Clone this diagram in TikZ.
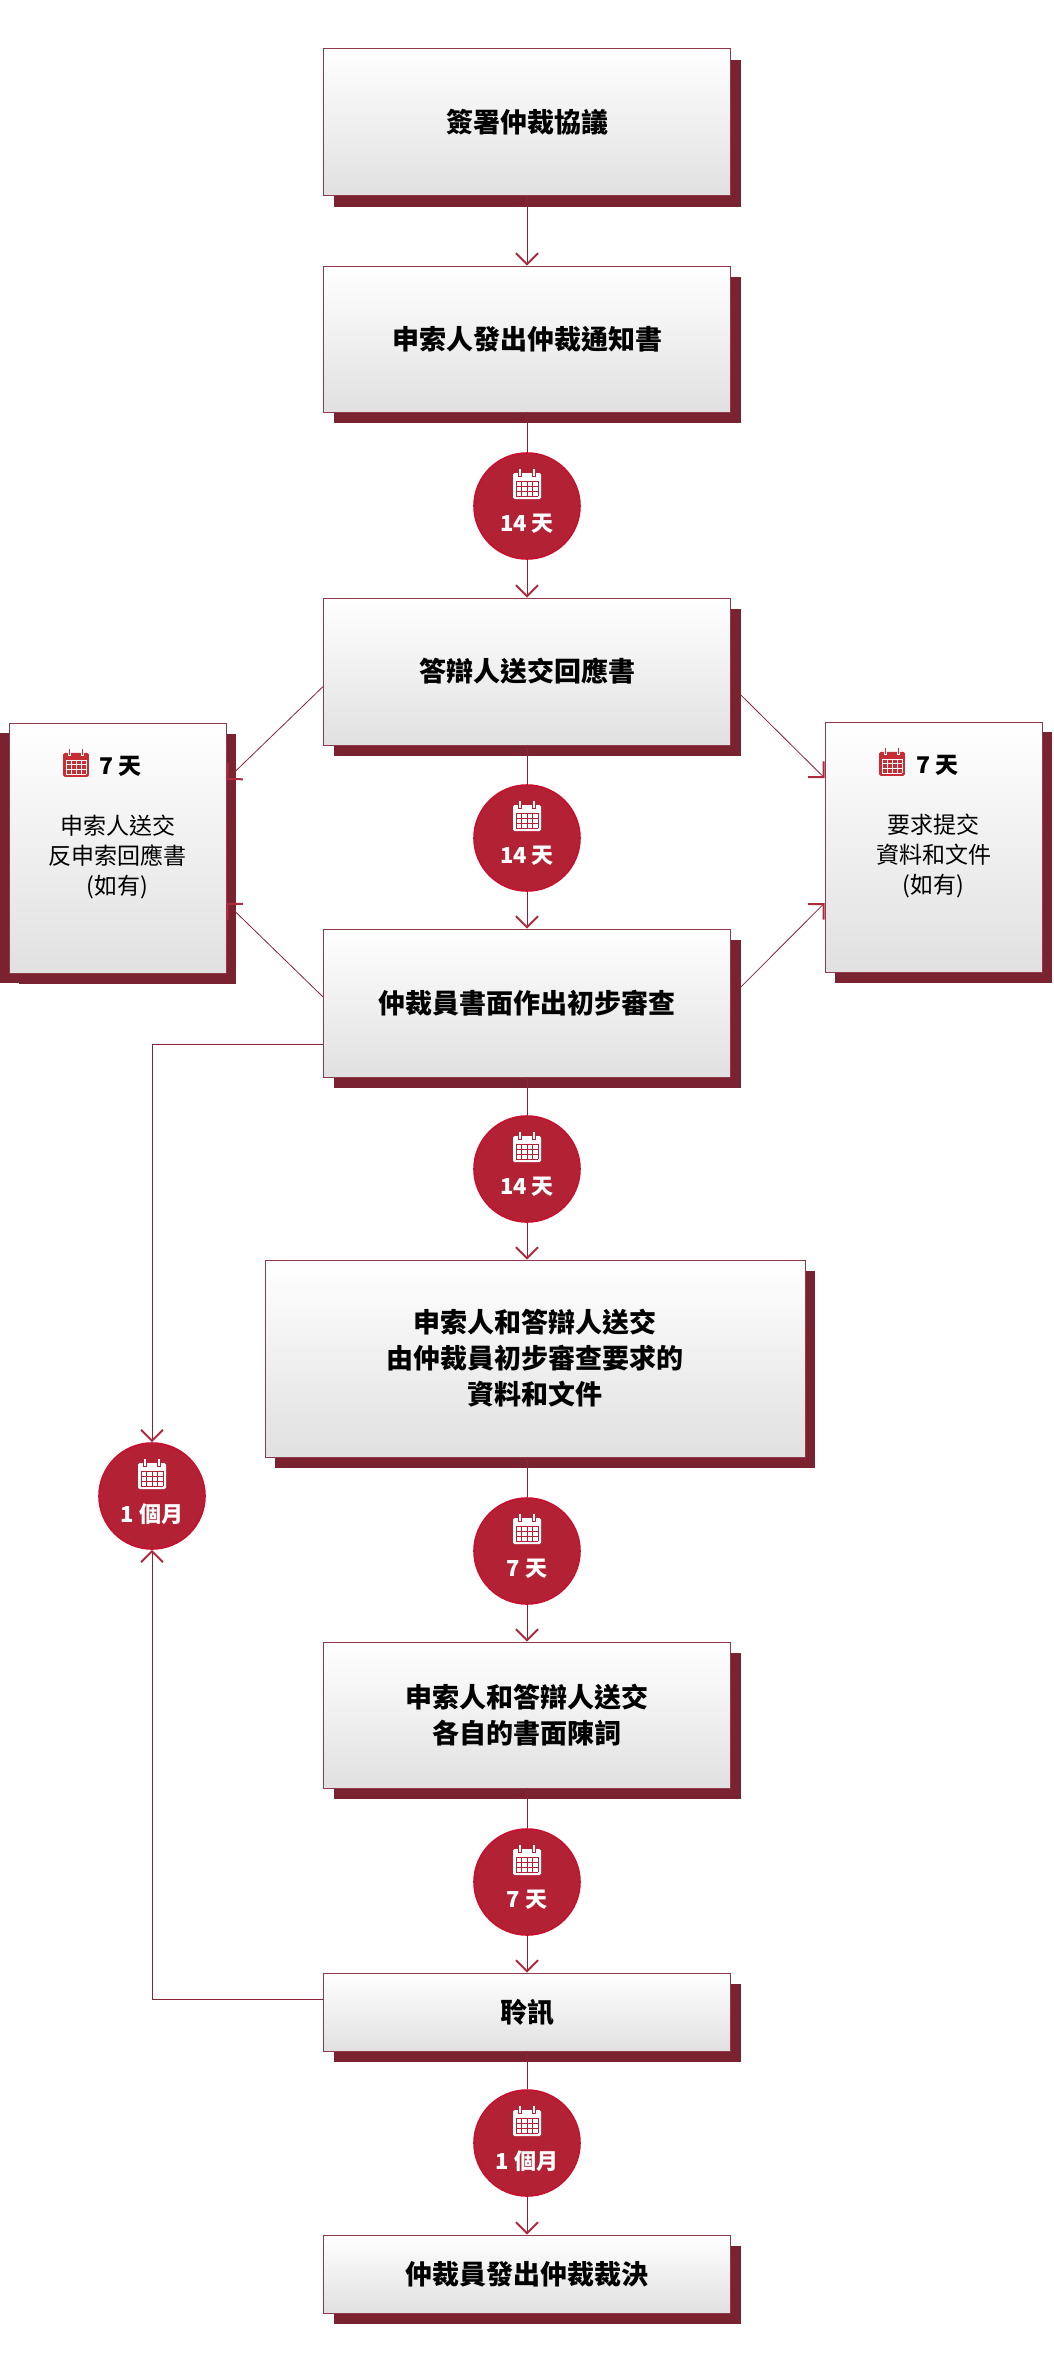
\documentclass[tikz,border=0pt]{standalone}
\usepackage{fontspec}
\setmainfont{Noto Sans CJK TC}
\usepackage{xcolor}
\usepackage{tikz}
\usetikzlibrary{positioning,calc,shadows,arrows.meta}

\definecolor{shadowred}{HTML}{7B2230}
\definecolor{circred}{HTML}{B22234}
\definecolor{circedge}{HTML}{C8102E}
\definecolor{linered}{HTML}{8C2236}
\definecolor{tipred}{HTML}{B0283C}
\definecolor{calred}{HTML}{C62D35}
\definecolor{boxedge}{HTML}{8E3A4A}

\tikzset{
  pics/calicon/.style 2 args={code={
    \fill[#1, rounded corners=1.5pt] (-14,-11) rectangle (14,15);
    \foreach \gx in {-11,-5.5,0,5.5,11} \draw[#2, line width=0.7pt] (\gx,-3) -- (\gx,12);
    \foreach \gy in {-3,2,7,12} \draw[#2, line width=0.7pt] (-11,\gy) -- (11,\gy);
    \filldraw[fill=#1, draw=#2, line width=1pt] (-8.5,-16) rectangle (-5.5,-8);
    \filldraw[fill=#1, draw=#2, line width=1pt] (5.5,-16) rectangle (8.5,-8);
  }}
}

\begin{document}
\begin{tikzpicture}[x=1pt, y=-1pt,
    box/.style={rectangle, draw=boxedge, line width=0.8pt, top color=white, bottom color=black!12,
      minimum width=407pt, minimum height=147pt, inner sep=0pt, align=center,
      font=\fontsize{27}{36}\selectfont\bfseries,
      drop shadow={shadow xshift=10pt, shadow yshift=-11pt, fill=shadowred, opacity=1}},
    sidebox/.style={box, minimum width=217pt, minimum height=250pt,
      drop shadow={shadow xshift=#1, shadow yshift=-10pt, fill=shadowred, opacity=1}},
    sidetext/.style={align=center, inner sep=0pt, font=\fontsize{23}{30}\selectfont},
    daycirc/.style={circle, fill=circred, draw=circedge, line width=1.6pt, minimum size=106pt, inner sep=0pt},
    daytext/.style={text=white, inner sep=0pt, font=\fontsize{22}{24}\selectfont\bfseries},
    flow/.style={draw=linered, line width=0.8pt},
    arr/.style={flow, -{Straight Barb[length=11pt, width=22pt, line width=2pt, color=tipred]}}]
  \useasboundingbox (0,0) rectangle (1053,2377);

  % Steps
  \node[box] (b1) at (527,122) {簽署仲裁協議};
  \node[box, minimum height=146pt] (b2) at (527,339) {申索人發出仲裁通知書};
  \node[box] (b3) at (527,671.5) {答辯人送交回應書};
  \node[box, minimum height=148pt] (b4) at (527,1003) {仲裁員書面作出初步審查};
  \node[box, minimum width=540pt, minimum height=197pt] (b5) at (535,1358.5)
    {申索人和答辯人送交\\由仲裁員初步審查要求的\\資料和文件};
  \node[box, minimum height=146pt] (b6) at (527,1715) {申索人和答辯人送交\\各自的書面陳詞};
  \node[box, minimum height=78pt] (b7) at (527,2012) {聆訊};
  \node[box, minimum height=78pt] (b8) at (527,2274) {仲裁員發出仲裁裁決};

  % Side boxes
  \node[sidebox=-9pt] (bL) at (117.5,848) {};
  \node[sidetext] (bLt) at ([yshift=-9pt]bL.center) {申索人送交\\反申索回應書\\(如有)};
  \pic[scale=0.92] at ([xshift=-41.5pt,yshift=85pt]bL.center) {calicon={calred}{white}};
  \node[sidetext, font=\fontsize{23}{30}\selectfont\bfseries] (bLd) at ([xshift=3pt,yshift=82pt]bL.center) {7 天};
  \node[sidebox=10pt] (bR) at (933.5,847) {};
  \node[sidetext] (bRt) at ([yshift=-9pt]bR.center) {要求提交\\資料和文件\\(如有)};
  \pic[scale=0.92] at ([xshift=-41.5pt,yshift=85pt]bR.center) {calicon={calred}{white}};
  \node[sidetext, font=\fontsize{23}{30}\selectfont\bfseries] (bRd) at ([xshift=4pt,yshift=82pt]bR.center) {7 天};

  % Time limits
  \foreach \n/\x/\y/\t in {c1/527/506/14 天, c2/527/838/14 天, c3/527/1169/14 天,
      c4/527/1551/7 天, c5/527/1882/7 天, c6/527/2143/1 個月, cL/152/1496/1 個月} {
    \node[daycirc] (\n) at (\x,\y) {};
    \pic at ([yshift=22pt]\n.center) {calicon={white}{circred}};
    \node[daytext] (\n t) at ([yshift=-18pt]\n.center) {\t};
  }

  \draw[arr] (b1.south) -- (b2.north);
  \draw[flow] (b2.south) -- (c1.north);
  \draw[arr] (c1.south) -- (b3.north);
  \draw[flow] (b3.south) -- (c2.north);
  \draw[arr] (c2.south) -- (b4.north);
  \draw[flow] (b4.south) -- (c3.north);
  \draw[arr] (c3.south) -- (c3 |- b5.north);
  \draw[flow] (c4 |- b5.south) -- (c4.north);
  \draw[arr] (c4.south) -- (b6.north);
  \draw[flow] (b6.south) -- (c5.north);
  \draw[arr] (c5.south) -- (b7.north);
  \draw[flow] (b7.south) -- (c6.north);
  \draw[arr] (c6.south) -- (b8.north);

  % Optional steps
  \draw[arr] ([yshift=-15pt]b3.west) -- ([yshift=68pt]bL.east);
  \draw[arr] ([yshift=6pt]b4.west) -- ([yshift=-55pt]bL.east);
  \draw[arr] ([xshift=10pt,yshift=-23.5pt]b3.east) -- ([yshift=69pt]bR.west);
  \draw[arr] ([xshift=10pt,yshift=16pt]b4.east) -- ([yshift=-56pt]bR.west);

  % Hearing loop
  \draw[arr] ([yshift=-41pt]b4.west) -| (cL.north);
  \draw[arr] ([yshift=13pt]b7.west) -| (cL.south);
\end{tikzpicture}
\end{document}
